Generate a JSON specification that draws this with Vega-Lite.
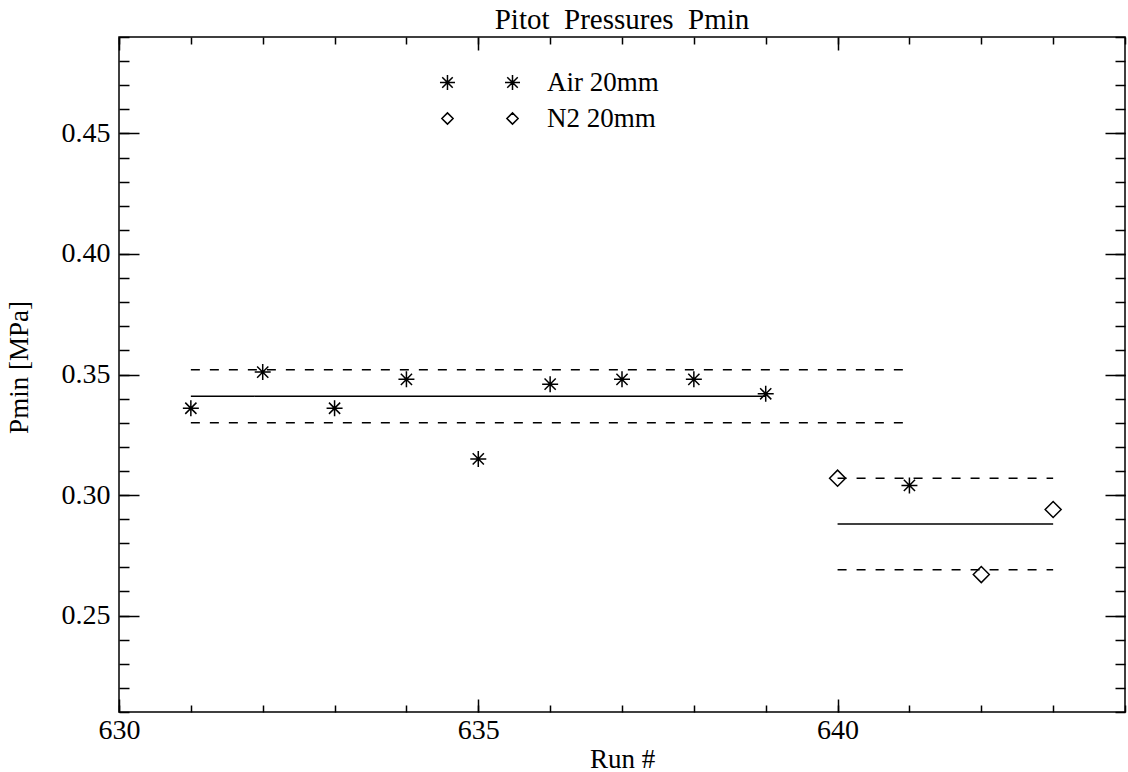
{
  "$schema": "https://vega.github.io/schema/vega-lite/v6.json",
  "width": 1006,
  "height": 675,
  "autosize": {"type": "none"},
  "padding": {"left": 119, "top": 37, "right": 3, "bottom": 60},
  "background": "white",
  "title": {"text": "Pitot\u00a0 Pressures\u00a0 Pmin", "font": "Liberation Serif", "fontSize": 29, "fontWeight": "normal", "color": "black", "anchor": "middle", "offset": 1},
  "config": {
    "view": {"stroke": "black", "strokeWidth": 1.5},
    "axis": {"grid": false, "domain": false, "tickColor": "black", "tickWidth": 1.5, "labelColor": "black", "titleColor": "black"}
  },
  "datasets": {
    "pts": [
      {"run": 631, "p": 0.336, "series": "Air 20mm"},
      {"run": 632, "p": 0.351, "series": "Air 20mm"},
      {"run": 633, "p": 0.336, "series": "Air 20mm"},
      {"run": 634, "p": 0.348, "series": "Air 20mm"},
      {"run": 635, "p": 0.315, "series": "Air 20mm"},
      {"run": 636, "p": 0.346, "series": "Air 20mm"},
      {"run": 637, "p": 0.348, "series": "Air 20mm"},
      {"run": 638, "p": 0.348, "series": "Air 20mm"},
      {"run": 639, "p": 0.342, "series": "Air 20mm"},
      {"run": 641, "p": 0.304, "series": "Air 20mm"},
      {"run": 640, "p": 0.307, "series": "N2 20mm"},
      {"run": 642, "p": 0.267, "series": "N2 20mm"},
      {"run": 643, "p": 0.294, "series": "N2 20mm"}
    ],
    "lines": [
      {"x1": 631, "x2": 639, "y": 0.341, "kind": "mean"},
      {"x1": 631, "x2": 641, "y": 0.352, "kind": "bound"},
      {"x1": 631, "x2": 641, "y": 0.330, "kind": "bound"},
      {"x1": 640, "x2": 643, "y": 0.288, "kind": "mean"},
      {"x1": 640, "x2": 643, "y": 0.307, "kind": "bound"},
      {"x1": 640, "x2": 643, "y": 0.269, "kind": "bound"}
    ]
  },
  "resolve": {"axis": {"x": "independent", "y": "independent"}, "scale": {"shape": "independent"}, "legend": {"shape": "independent"}},
  "layer": [
    {
      "data": {"name": "lines"},
      "mark": {"type": "rule", "color": "black", "strokeWidth": 1.5},
      "encoding": {
        "x": {"field": "x1", "type": "quantitative", "scale": {"domain": [630, 644], "nice": false, "zero": false},
          "axis": {"orient": "bottom", "values": [630, 635, 640], "format": "d", "offset": -13, "tickSize": 13, "labelPadding": 4, "labelFont": "Liberation Serif", "labelFontSize": 28, "labelFlush": false, "labelOverlap": false, "title": "Run #", "titleFont": "Liberation Serif", "titleFontSize": 27, "titleFontWeight": "normal", "titlePadding": 2}},
        "x2": {"field": "x2"},
        "y": {"field": "y", "type": "quantitative", "scale": {"domain": [0.21, 0.49], "nice": false, "zero": false},
          "axis": {"orient": "left", "values": [0.25, 0.30, 0.35, 0.40, 0.45], "format": ".2f", "offset": -20, "tickSize": 20, "labelPadding": 9, "labelFont": "Liberation Serif", "labelFontSize": 28, "labelFlush": false, "labelOverlap": false, "title": "Pmin [MPa]", "titleFont": "Liberation Serif", "titleFontSize": 27, "titleFontWeight": "normal", "titlePadding": 28, "titleY": 330}},
        "strokeDash": {"field": "kind", "type": "nominal", "scale": {"domain": ["mean", "bound"], "range": [[1, 0], [9, 10]]}, "legend": null}
      }
    },
    {
      "data": {"name": "pts"},
      "mark": {"type": "point", "filled": false, "color": "black", "strokeWidth": 1.5, "size": 256, "opacity": 1},
      "encoding": {
        "x": {"field": "run", "type": "quantitative",
          "axis": {"orient": "bottom", "values": [630, 631, 632, 633, 634, 635, 636, 637, 638, 639, 640, 641, 642, 643, 644], "offset": -7, "tickSize": 7, "labels": false, "title": null}},
        "y": {"field": "p", "type": "quantitative",
          "axis": {"orient": "left", "values": [0.21, 0.22, 0.23, 0.24, 0.25, 0.26, 0.27, 0.28, 0.29, 0.30, 0.31, 0.32, 0.33, 0.34, 0.35, 0.36, 0.37, 0.38, 0.39, 0.40, 0.41, 0.42, 0.43, 0.44, 0.45, 0.46, 0.47, 0.48, 0.49], "offset": -10, "tickSize": 10, "labels": false, "title": null}},
        "shape": {"field": "series", "type": "nominal",
          "scale": {"domain": ["Air 20mm", "N2 20mm"], "range": ["M-1,0L1,0M0,-1L0,1M-0.7,-0.7L0.7,0.7M-0.7,0.7L0.7,-0.7", "M-1,0L0,-1L1,0L0,1Z"]},
          "legend": null}
      }
    },
    {
      "data": {"name": "pts"},
      "mark": {"type": "point", "filled": false, "color": "black", "strokeWidth": 1.5, "opacity": 0},
      "encoding": {
        "x": {"field": "run", "type": "quantitative",
          "axis": {"orient": "top", "values": [630, 635, 640], "offset": -13, "tickSize": 13, "labels": false, "title": null}},
        "y": {"field": "p", "type": "quantitative",
          "axis": {"orient": "right", "values": [0.25, 0.30, 0.35, 0.40, 0.45], "offset": -20, "tickSize": 20, "labels": false, "title": null}},
        "shape": {"field": "series", "type": "nominal",
          "scale": {"domain": ["Air 20mm", "N2 20mm"], "range": ["M-1,0L1,0M0,-1L0,1M-0.7,-0.7L0.7,0.7M-0.7,0.7L0.7,-0.7M-9.67,0L-7.67,0M-8.67,-1L-8.67,1M-9.37,-0.7L-7.97,0.7M-9.37,0.7L-7.97,-0.7", "M-0.75,0L0,-0.75L0.75,0L0,0.75ZM-9.42,0L-8.67,-0.75L-7.92,0L-8.67,0.75Z"]},
          "legend": {"title": null, "orient": "none", "legendX": 380, "legendY": 32, "padding": 0, "symbolSize": 225, "symbolOpacity": 1, "symbolStrokeWidth": 1.5, "symbolStrokeColor": "black", "symbolFillColor": "transparent", "labelFont": "Liberation Serif", "labelFontSize": 27, "labelColor": "black", "labelOffset": 21, "rowPadding": 8}}
      }
    },
    {
      "data": {"name": "pts"},
      "mark": {"type": "point", "opacity": 0},
      "encoding": {
        "x": {"field": "run", "type": "quantitative",
          "axis": {"orient": "top", "values": [630, 631, 632, 633, 634, 635, 636, 637, 638, 639, 640, 641, 642, 643, 644], "offset": -7, "tickSize": 7, "labels": false, "title": null}},
        "y": {"field": "p", "type": "quantitative",
          "axis": {"orient": "right", "values": [0.21, 0.22, 0.23, 0.24, 0.25, 0.26, 0.27, 0.28, 0.29, 0.30, 0.31, 0.32, 0.33, 0.34, 0.35, 0.36, 0.37, 0.38, 0.39, 0.40, 0.41, 0.42, 0.43, 0.44, 0.45, 0.46, 0.47, 0.48, 0.49], "offset": -10, "tickSize": 10, "labels": false, "title": null}}
      }
    }
  ]
}
